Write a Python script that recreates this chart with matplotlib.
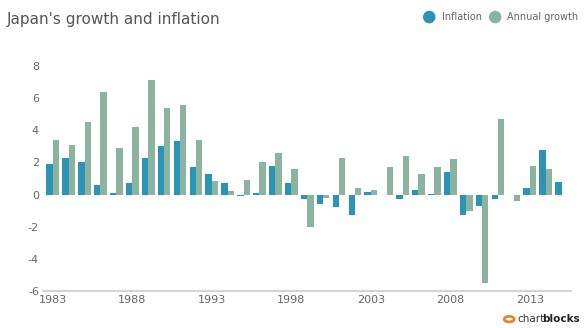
import matplotlib
matplotlib.use("Agg")
import matplotlib.pyplot as plt
import numpy as np

years = list(range(1983, 2016))
inflation = [1.9, 2.3, 2.0, 0.6, 0.1, 0.7, 2.3, 3.0, 3.3, 1.7, 1.3, 0.7, -0.1, 0.1, 1.8, 0.7,
             -0.3, -0.6, -0.8, -1.3, 0.15, 0.0, -0.25, 0.25, 0.05, 1.4, -1.3, -0.7, -0.25,
             0.0, 0.4, 2.8, 0.8]
growth = [3.4, 3.1, 4.5, 6.4, 2.9, 4.2, 7.1, 5.4, 5.6, 3.4, 0.85, 0.2, 0.9, 2.0, 2.6, 1.6,
          -2.0, -0.2, 2.3, 0.4, 0.3, 1.7, 2.4, 1.3, 1.7, 2.2, -1.0, -5.5, 4.7, -0.4, 1.8,
          1.6, -0.05]
tick_years = [1983, 1988, 1993, 1998, 2003, 2008, 2013]
yticks = [-6, -4, -2, 0, 2, 4, 6, 8]

c_inf = "#2b93b8"
c_gro = "#8ab3a0"

fig = plt.figure(figsize=(5.84, 3.28), dpi=100)
ax = fig.add_axes([0.074, 0.113, 0.904, 0.686])

x = np.arange(len(years))
w = 0.4
ax.bar(x - w / 2, inflation, width=w, color=c_inf, linewidth=0)
ax.bar(x + w / 2, growth, width=w, color=c_gro, linewidth=0)

ax.set_xlim(-0.6, len(years) - 0.4)
ax.set_ylim(-6, 8)
ax.set_yticks(yticks)
ax.set_yticklabels([str(v) for v in yticks])
ax.set_xticks([years.index(y) for y in tick_years])
ax.set_xticklabels([str(y) for y in tick_years])
ax.tick_params(axis="both", length=0, labelsize=8, colors="#666666")
ax.tick_params(axis="y", pad=3)
ax.tick_params(axis="x", pad=3)
for s in ["top", "right", "left"]:
    ax.spines[s].set_visible(False)
ax.spines["bottom"].set_color("#cccccc")
ax.spines["bottom"].set_linewidth(1.2)

fig.text(0.012, 0.94, "Japan's growth and inflation", fontsize=11, color="#555555",
         ha="left", va="center")

# legend
fig.patches.append(matplotlib.patches.Ellipse((0.735, 0.948), 0.019, 0.034, color=c_inf,
                                              transform=fig.transFigure))
fig.text(0.756, 0.948, "Inflation", fontsize=7, color="#666666", ha="left", va="center")
fig.patches.append(matplotlib.patches.Ellipse((0.848, 0.948), 0.019, 0.034, color=c_gro,
                                              transform=fig.transFigure))
fig.text(0.868, 0.948, "Annual growth", fontsize=7, color="#666666", ha="left", va="center")

# logo
fig.patches.append(matplotlib.patches.Circle((0.872, 0.027), 0.0085, fill=False,
                                             edgecolor="#e8842c", linewidth=2,
                                             transform=fig.transFigure))
fig.text(0.886, 0.027, "chart", fontsize=7.5, color="#333333", ha="left", va="center")
fig.text(0.929, 0.027, "blocks", fontsize=7.5, color="#222222", fontweight="bold",
         ha="left", va="center")

fig.savefig("out.png", dpi=100, facecolor="white")
